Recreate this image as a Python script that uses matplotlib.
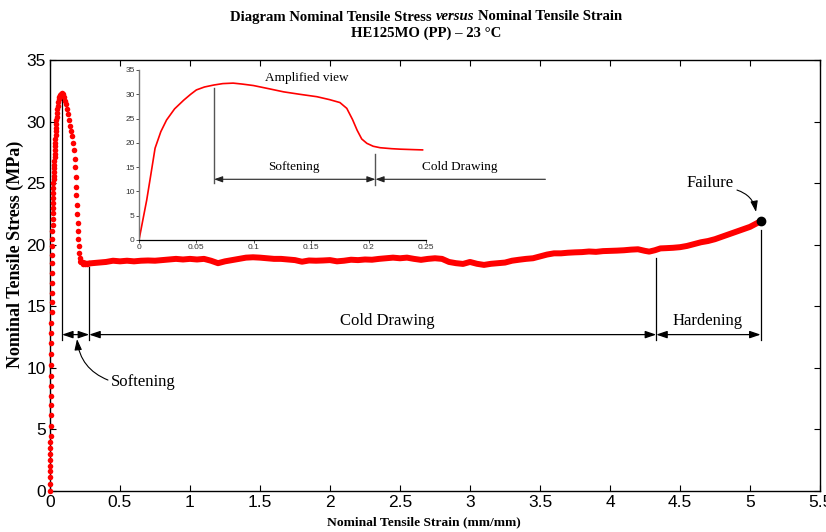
import matplotlib
matplotlib.use('Agg')
import matplotlib.pyplot as plt

SERIF = ['Liberation Serif', 'DejaVu Serif']
SANS = ['Liberation Sans Narrow', 'Liberation Sans', 'DejaVu Sans']

# ---------------- data ----------------
rise_strain = [0.0, 0.0005, 0.001, 0.0013, 0.0017, 0.002, 0.0024, 0.0028, 0.0032, 0.0036,
               0.0042, 0.0049, 0.0056, 0.0062, 0.0069, 0.0074, 0.008, 0.0086, 0.0092, 0.0098,
               0.0103, 0.0109, 0.0115, 0.012, 0.0126, 0.0131, 0.0137, 0.0143, 0.0155, 0.0165,
               0.0175, 0.0183, 0.0192, 0.0200, 0.0207, 0.0214, 0.0221, 0.0228, 0.0236, 0.0245,
               0.0256, 0.0267, 0.0278, 0.0289, 0.030, 0.0311, 0.0322, 0.0334, 0.0345, 0.0356,
               0.0368, 0.038, 0.0393, 0.0408, 0.0423, 0.044, 0.0457, 0.0475, 0.0495, 0.0518,
               0.0545, 0.058, 0.0615, 0.066, 0.071, 0.077, 0.083]
rise_stress = [0.0, 0.54, 1.16, 1.62, 2.05, 2.52, 3.0, 3.47, 3.95, 4.49,
               5.28, 6.17, 6.98, 7.74, 8.55, 9.36, 10.23, 11.1, 11.99, 12.8,
               13.62, 14.51, 15.32, 16.1, 16.9, 17.7, 18.5, 19.2, 19.9, 20.5,
               21.1, 21.6, 22.1, 22.6, 23.0, 23.4, 23.8, 24.2, 24.6, 25.0,
               25.3, 25.6, 25.9, 26.2, 26.5, 26.8, 27.1, 27.4, 27.7, 28.0,
               28.3, 28.6, 28.9, 29.2, 29.5, 29.8, 30.1, 30.4, 30.7, 31.0,
               31.3, 31.6, 31.8, 32.0, 32.15, 32.25, 32.3]

drop_strain = [0.090, 0.098, 0.106, 0.114, 0.122, 0.130, 0.138, 0.146, 0.153, 0.160,
               0.166, 0.171, 0.175, 0.179, 0.183, 0.186, 0.189, 0.192, 0.195, 0.197,
               0.199, 0.201, 0.204, 0.208, 0.213, 0.220, 0.235, 0.250, 0.265, 0.280]
drop_stress = [32.2, 32.0, 31.7, 31.4, 31.0, 30.6, 30.1, 29.6, 29.2, 28.8,
               28.3, 27.7, 27.0, 26.3, 25.5, 24.7, 24.0, 23.2, 22.5, 21.8,
               21.1, 20.5, 19.9, 19.3, 18.9, 18.6, 18.45, 18.4, 18.45, 18.5]

plateau_strain = [0.22, 0.26, 0.30, 0.35, 0.40, 0.45, 0.50, 0.55, 0.60, 0.65, 0.70, 0.75, 0.80,
                  0.85, 0.90, 0.95, 1.00, 1.05, 1.10, 1.15, 1.20, 1.25, 1.30, 1.35, 1.40,
                  1.45, 1.50, 1.55, 1.60, 1.65, 1.70, 1.75, 1.80, 1.85, 1.90, 1.95, 2.00,
                  2.05, 2.10, 2.15, 2.20, 2.25, 2.30, 2.35, 2.40, 2.45, 2.50, 2.55, 2.60,
                  2.65, 2.70, 2.75, 2.80, 2.85, 2.90, 2.95, 3.00, 3.05, 3.10, 3.15, 3.20,
                  3.25, 3.30, 3.35, 3.40, 3.45, 3.50, 3.55, 3.60, 3.65, 3.70, 3.75, 3.80,
                  3.85, 3.90, 3.95, 4.00, 4.05, 4.10, 4.15, 4.20, 4.25, 4.28, 4.32, 4.36,
                  4.40, 4.45, 4.50, 4.55, 4.60, 4.65, 4.70, 4.75, 4.80, 4.85, 4.90, 4.95,
                  5.00, 5.05, 5.076]
plateau_stress = [18.6, 18.45, 18.5, 18.55, 18.6, 18.7, 18.65, 18.7, 18.65, 18.7, 18.72, 18.7, 18.75,
                  18.8, 18.85, 18.8, 18.85, 18.8, 18.85, 18.7, 18.5, 18.65, 18.75, 18.85, 18.95,
                  18.98, 18.95, 18.9, 18.85, 18.85, 18.8, 18.75, 18.62, 18.72, 18.7, 18.72, 18.75,
                  18.65, 18.7, 18.78, 18.75, 18.8, 18.78, 18.85, 18.9, 18.95, 18.9, 18.95, 18.85,
                  18.77, 18.85, 18.9, 18.85, 18.6, 18.5, 18.44, 18.6, 18.45, 18.36, 18.45, 18.5,
                  18.55, 18.7, 18.78, 18.85, 18.9, 19.05, 19.2, 19.3, 19.3, 19.35, 19.38, 19.4,
                  19.45, 19.42, 19.48, 19.5, 19.52, 19.55, 19.6, 19.63, 19.5, 19.44, 19.55, 19.7,
                  19.72, 19.75, 19.8, 19.9, 20.05, 20.2, 20.3, 20.45, 20.65, 20.85, 21.05, 21.25,
                  21.45, 21.75, 21.93]

failure_strain = 5.076
failure_stress = 21.93

# region boundaries (strain) and marker line tops (stress)
bound_strain = [0.086, 0.28, 4.33, 5.076]
bound_top = [32.3, 18.2, 18.9, 21.2]
bound_bottom = 12.3
arrow_level = 12.7

# inset (amplified view)
inset_strain = [0, 0.0035, 0.0067, 0.010, 0.014, 0.019, 0.024, 0.031, 0.039, 0.045, 0.050,
                0.057, 0.065, 0.073, 0.082, 0.090, 0.0997, 0.112, 0.126, 0.140, 0.155, 0.166,
                0.175, 0.181, 0.186, 0.190, 0.194, 0.1985, 0.204, 0.21, 0.22, 0.2276, 0.24, 0.247]
inset_stress = [0, 4.3, 8.2, 13.0, 18.9, 22.3, 24.7, 27.0, 28.8, 30.0, 30.9,
                31.5, 31.9, 32.2, 32.3, 32.1, 31.8, 31.2, 30.5, 30.0, 29.5, 28.9,
                28.3, 27.1, 24.8, 22.6, 20.8, 19.9, 19.3, 19.0, 18.8, 18.7, 18.6, 18.55]
inset_bound_strain = [0.0654, 0.206]
inset_bound_top = [31.3, 17.8]
inset_bound_bottom = [11.7, 11.3]
inset_arrow_level = 12.5
inset_arrow_end = 0.354

x_ticks = [0, 0.5, 1, 1.5, 2, 2.5, 3, 3.5, 4, 4.5, 5, 5.5]
x_tick_labels = ['0', '0.5', '1', '1.5', '2', '2.5', '3', '3.5', '4', '4.5', '5', '5.5']
y_ticks = [0, 5, 10, 15, 20, 25, 30, 35]
inset_x_ticks = [0, 0.05, 0.1, 0.15, 0.2, 0.25]
inset_x_labels = ['0', '0.05', '0.1', '0.15', '0.2', '0.25']

# ---------------- figure ----------------
W, H = 826, 532
fig = plt.figure(figsize=(W / 100, H / 100), dpi=100)
ax = fig.add_axes([50 / W, 1 - 491 / H, 770 / W, 431 / H])

ax.plot(plateau_strain, plateau_stress, '-', color='#ff0000', lw=4.3,
        solid_capstyle='round', solid_joinstyle='round', zorder=3)
ax.plot(rise_strain + drop_strain, rise_stress + drop_stress, 'o', color='#ff0000',
        ms=4.0, mec='none', zorder=3, clip_on=False)
ax.plot([failure_strain], [failure_stress], 'o', color='black', ms=6, zorder=4)

ax.set_xlim(0, 5.5)
ax.set_ylim(0, 35)
ax.set_xticks(x_ticks)
ax.set_xticklabels(x_tick_labels)
ax.set_yticks(y_ticks)
ax.tick_params(direction='in', top=True, right=True, length=4, width=0.8,
               labelsize=12.5, pad=3)
for lab in ax.get_xticklabels() + ax.get_yticklabels():
    lab.set_family(SANS)
for s in ax.spines.values():
    s.set_linewidth(1.0)

fig.text(424 / W, 1 - 522 / H, 'Nominal Tensile Strain (mm/mm)', family=SERIF,
         fontweight='bold', fontsize=9.7, ha='center', va='center')
fig.text(15 / W, 1 - 254 / H, 'Nominal Tensile Stress (MPa)', family=SERIF,
         fontweight='bold', fontsize=13, ha='center', va='center', rotation=90)

# region markers
for xs, top in zip(bound_strain, bound_top):
    ax.plot([xs, xs], [bound_bottom, top], color='black', lw=0.9, zorder=2)
astyle = '<|-|>,head_length=0.5,head_width=0.17'
for x1, x2 in zip(bound_strain[:-1], bound_strain[1:]):
    ax.annotate('', xy=(x2, arrow_level), xytext=(x1, arrow_level),
                arrowprops=dict(arrowstyle=astyle, color='black', lw=0.9,
                                mutation_scale=13, shrinkA=0, shrinkB=0))

ax.text(2.41, 13.8, 'Cold Drawing', family=SERIF, fontsize=12, ha='center', va='center')
ax.text(4.70, 13.8, 'Hardening', family=SERIF, fontsize=12, ha='center', va='center')
ax.text(0.435, 8.85, 'Softening', family=SERIF, fontsize=12, ha='left', va='center')
ax.annotate('', xy=(0.193, 12.34), xytext=(0.414, 9.01),
            arrowprops=dict(arrowstyle='-|>,head_length=0.5,head_width=0.17', color='black',
                            lw=0.8, mutation_scale=13, shrinkA=0, shrinkB=0,
                            connectionstyle='arc3,rad=-0.3'))
ax.text(4.714, 25.0, 'Failure', family=SERIF, fontsize=12, ha='center', va='center')
ax.annotate('', xy=(5.043, 22.66), xytext=(4.907, 24.44),
            arrowprops=dict(arrowstyle='-|>,head_length=0.5,head_width=0.17', color='black',
                            lw=0.8, mutation_scale=13, shrinkA=0, shrinkB=0,
                            connectionstyle='arc3,rad=-0.3'))

# ---------------- inset ----------------
ins = fig.add_axes([139 / W, 1 - 240 / H, 287 / W, 170 / H])
ins.patch.set_alpha(0)
ins.plot(inset_strain, inset_stress, color='#ff0000', lw=1.2)
ins.set_xlim(0, 0.25)
ins.set_ylim(0, 35)
ins.set_xticks(inset_x_ticks)
ins.set_xticklabels(inset_x_labels)
ins.set_yticks(y_ticks)
ins.spines['top'].set_visible(False)
ins.spines['right'].set_visible(False)
ins.spines['left'].set_color('#777777')
ins.spines['left'].set_linewidth(1.0)
ins.spines['bottom'].set_color('black')
ins.spines['bottom'].set_linewidth(0.9)
ins.tick_params(direction='out', length=2, width=0.6, labelsize=6, pad=1,
                labelcolor='#333333', colors='#333333')
for lab in ins.get_xticklabels() + ins.get_yticklabels():
    lab.set_family(SANS)

for xs, top, bot in zip(inset_bound_strain, inset_bound_top, inset_bound_bottom):
    ins.plot([xs, xs], [bot, top], color='#555555', lw=1.0, clip_on=False)
istyle = '<|-|>,head_length=0.5,head_width=0.18'
ins.annotate('', xy=(inset_bound_strain[1], inset_arrow_level),
             xytext=(inset_bound_strain[0], inset_arrow_level),
             arrowprops=dict(arrowstyle=istyle, color='#222222', lw=0.8,
                             mutation_scale=10, shrinkA=0, shrinkB=0),
             annotation_clip=False)
ins.annotate('', xy=(inset_bound_strain[1], inset_arrow_level),
             xytext=(inset_arrow_end, inset_arrow_level),
             arrowprops=dict(arrowstyle='-|>,head_length=0.5,head_width=0.18', color='#222222',
                             lw=0.8, mutation_scale=10, shrinkA=0, shrinkB=0),
             annotation_clip=False)
ins.text(0.135, 15.1, 'Softening', family=SERIF, fontsize=9.5, ha='center', va='center')
ins.text(0.279, 15.1, 'Cold Drawing', family=SERIF, fontsize=9.5, ha='center', va='center',
         clip_on=False)
ins.text(0.146, 33.4, 'Amplified view', family=SERIF, fontsize=9.5, ha='center', va='center')

# ---------------- title (mixed bold / bold italic) ----------------
renderer = fig.canvas.get_renderer()
tfs = 10.6
parts = [('Diagram Nominal Tensile Stress', 'normal'), ('versus', 'italic'),
         ('Nominal Tensile Strain', 'normal')]
y1 = 1 - 20.5 / H
texts = [fig.text(0, y1, p, family=SERIF, fontweight='bold', style=st, fontsize=tfs,
                  va='baseline', ha='left') for p, st in parts]
sp = fig.text(0, 0, 'a a', family=SERIF, fontweight='bold', fontsize=tfs)
sp2 = fig.text(0, 0, 'aa', family=SERIF, fontweight='bold', fontsize=tfs)
space_w = sp.get_window_extent(renderer).width - sp2.get_window_extent(renderer).width
sp.remove(); sp2.remove()
widths = [t.get_window_extent(renderer).width for t in texts]
total = sum(widths) + space_w * (len(widths) - 1)
cx = 426
x = cx - total / 2
for t, w in zip(texts, widths):
    t.set_x(x / W)
    x += w + space_w
fig.text(cx / W, 1 - 37 / H, 'HE125MO (PP) \u2013 23 \u00b0C', family=SERIF,
         fontweight='bold', fontsize=tfs, ha='center', va='baseline')

fig.savefig('out.png', dpi=100)
